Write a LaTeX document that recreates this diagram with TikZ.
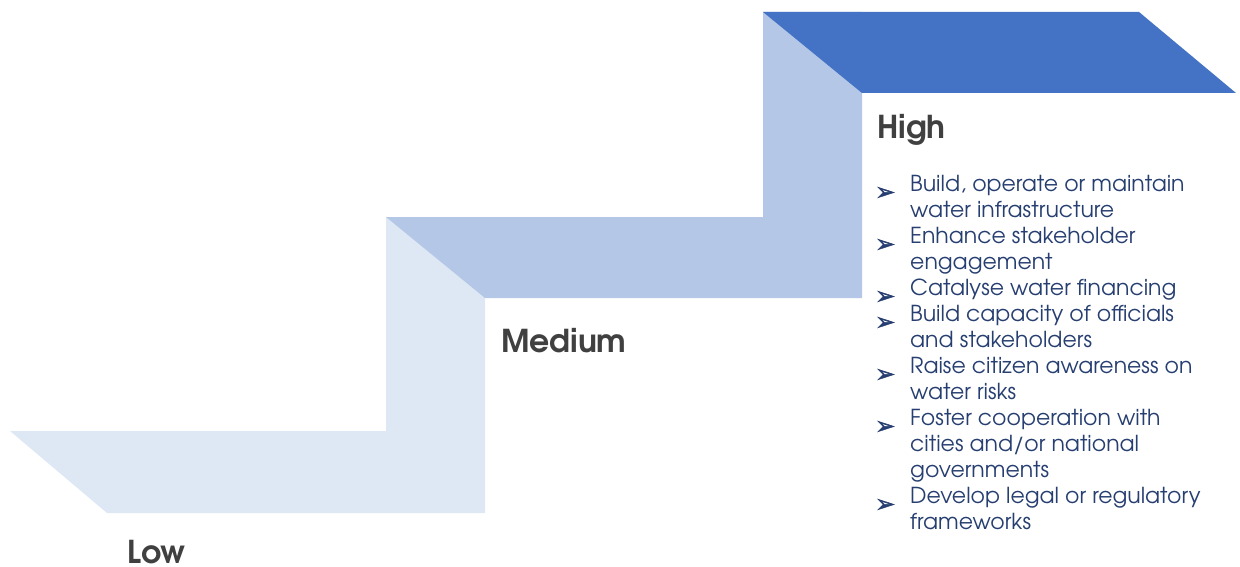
\documentclass[tikz,border=0pt]{standalone}
\usepackage{fontspec}
\setmainfont{texgyreadventor}[Extension=.otf,UprightFont=*-regular,BoldFont=*-bold]
\newfontfamily\symfont{DejaVu Sans}[FakeBold=2]
\definecolor{lowc}{HTML}{DEE8F5}
\definecolor{medc}{HTML}{B4C7E7}
\definecolor{highc}{HTML}{4472C4}
\definecolor{headc}{HTML}{404040}
\definecolor{bodyc}{HTML}{263E70}
\tikzset{
  headtext/.style={anchor=base west,inner sep=0pt,text=headc,font=\fontsize{31.5}{36}\selectfont\bfseries},
  linetext/.style={anchor=base west,inner sep=0pt,text=bodyc,font=\fontsize{22}{26}\selectfont},
  bullettext/.style={anchor=base west,inner sep=0pt,text=bodyc,font=\symfont\fontsize{24}{26}\selectfont}
}
\begin{document}
\begin{tikzpicture}[x=1pt,y=-1pt]
\useasboundingbox (0,0) rectangle (1240,567);
% low step
\fill[lowc] (10,431)--(386,431)--(386,217)--(485,217)--(485,513)--(107,513)--cycle;
% medium step
\fill[medc] (386,217)--(763,217)--(763,12)--(862,12)--(862,298)--(485,298)--cycle;
% high step
\fill[highc] (763,12)--(1139,12)--(1236,93)--(862,93)--cycle;
% headings
\node[headtext] (low) at (127,563) {Low};
\node[headtext] (medium) at (501,352) {Medium};
\node[headtext] (high) at (877,139) {High};
% bullets
\node[bullettext] (b1) at (875,200) {➢};
\node[bullettext] (b2) at (875,252) {➢};
\node[bullettext] (b3) at (875,304) {➢};
\node[bullettext] (b4) at (875,330) {➢};
\node[bullettext] (b5) at (875,382) {➢};
\node[bullettext] (b6) at (875,434) {➢};
\node[bullettext] (b7) at (875,512) {➢};
% lines
\node[linetext] (t1) at (910,191) {Build, operate or maintain};
\node[linetext] (t2) at (910,217) {water infrastructure};
\node[linetext] (t3) at (910,243) {Enhance stakeholder};
\node[linetext] (t4) at (910,269) {engagement};
\node[linetext] (t5) at (910,295) {Catalyse water financing};
\node[linetext] (t6) at (910,321) {Build capacity of officials};
\node[linetext] (t7) at (910,347) {and stakeholders};
\node[linetext] (t8) at (910,373) {Raise citizen awareness on};
\node[linetext] (t9) at (910,399) {water risks};
\node[linetext] (t10) at (910,425) {Foster cooperation with};
\node[linetext] (t11) at (910,451) {cities and/or national};
\node[linetext] (t12) at (910,477) {governments};
\node[linetext] (t13) at (910,503) {Develop legal or regulatory};
\node[linetext] (t14) at (910,529) {frameworks};
\end{tikzpicture}
\end{document}
